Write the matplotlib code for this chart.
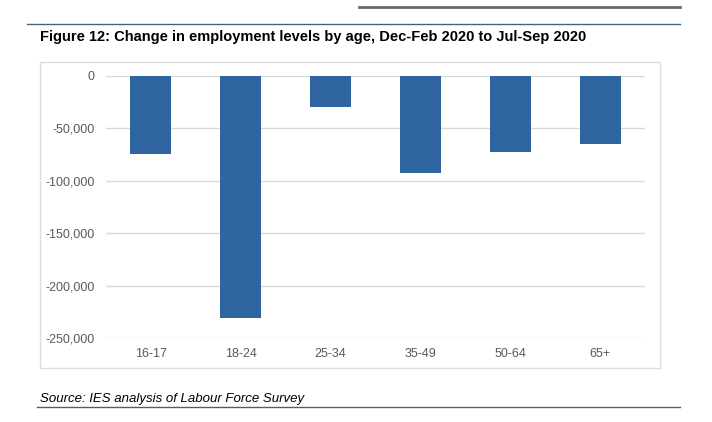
"""Figure 12: change in employment levels by age"""

import matplotlib
matplotlib.use("Agg")
from matplotlib import pyplot as plt
from matplotlib.lines import Line2D
from matplotlib.patches import Rectangle
from matplotlib.ticker import FuncFormatter

plt.rcParams['font.family'] = ['Liberation Sans', 'DejaVu Sans']

W, H = 712, 422  # 像素尺寸

age_groups = ['16-17', '18-24', '25-34', '35-49', '50-64', '65+']
change = [-75000, -231000, -30000, -93000, -73000, -65000]
y_ticks = [0, -50000, -100000, -150000, -200000, -250000]

BAR_COLOR = '#2e65a0'
GRID_COLOR = '#d9d9d9'
TICK_COLOR = '#595959'
RULE_COLOR = '#44627f'


def fx(px):
    return px / W


def fy(py):
    return 1 - py / H


fig = plt.figure(figsize=(W / 100, H / 100), dpi=100)

# 图表外框
fig.add_artist(Rectangle((fx(39.5), fy(368)), fx(660) - fx(39.5), fy(61.5) - fy(368),
                         transform=fig.transFigure, fill=False,
                         edgecolor='#dcdcdc', linewidth=1.0))

# 页面上的横线
fig.add_artist(Line2D([fx(359), fx(680)], [fy(7), fy(7)], transform=fig.transFigure,
                      color='#6b6b6b', linewidth=2.0))
fig.add_artist(Line2D([fx(27), fx(680)], [fy(24), fy(24)], transform=fig.transFigure,
                      color=RULE_COLOR, linewidth=1.0))
fig.add_artist(Line2D([fx(37), fx(680)], [fy(407), fy(407)], transform=fig.transFigure,
                      color=RULE_COLOR, linewidth=1.0))

fig.text(fx(40), fy(40.7), 'Figure 12: Change in employment levels by age, Dec-Feb 2020 to Jul-Sep 2020',
         fontsize=10.55, fontweight='bold', color='black', va='baseline', ha='left')
fig.text(fx(40), fy(401.7), 'Source: IES analysis of Labour Force Survey',
         fontsize=9.55, fontstyle='italic', color='black', va='baseline', ha='left')

ax = fig.add_axes([fx(106), fy(338.3), fx(645) - fx(106), fy(75.7) - fy(338.3)])
x = range(len(age_groups))
ax.bar(x, change, width=0.455, color=BAR_COLOR, zorder=3)

ax.set_xlim(-0.5, len(age_groups) - 0.5)
ax.set_ylim(-250000, 0)
ax.set_yticks(y_ticks)
ax.yaxis.set_major_formatter(FuncFormatter(lambda v, p: f'{int(v):,}'))
ax.set_xticks(list(x))
ax.set_xticklabels(age_groups)
ax.grid(axis='y', color=GRID_COLOR, linewidth=1.0, zorder=0)
ax.tick_params(axis='both', length=0, labelsize=9, labelcolor=TICK_COLOR)
ax.tick_params(axis='y', pad=8)
ax.tick_params(axis='x', pad=7)
for s in ax.spines.values():
    s.set_visible(False)

fig.savefig('out.png', dpi=100)
